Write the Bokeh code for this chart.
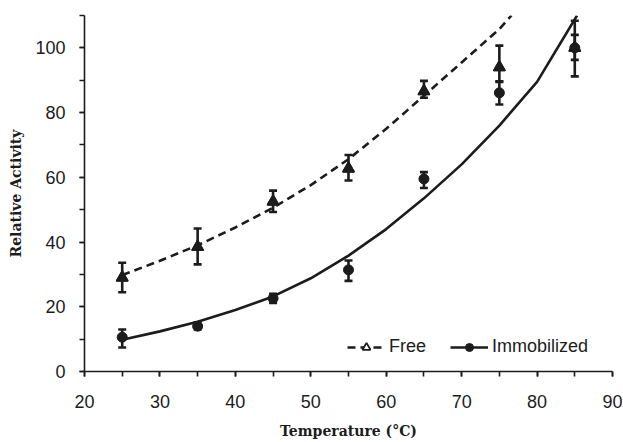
from bokeh.plotting import figure
from bokeh.models import (ColumnDataSource, Whisker, TeeHead, Range1d, Legend,
                          LegendItem, SingleIntervalTicker)
from bokeh.embed import file_html
from bokeh.resources import INLINE

# ---- data ----
temps = [25, 35, 45, 55, 65, 75, 85]

free_mean = [29.0, 38.5, 52.5, 62.7, 86.6, 94.0, 100.0]
free_low = [24.5, 33.1, 49.3, 59.0, 84.6, 89.5, 96.3]
free_high = [33.6, 44.2, 55.9, 66.9, 89.8, 100.7, 104.0]

imm_mean = [10.6, 14.0, 22.6, 31.4, 59.5, 86.1, 100.0]
imm_low = [7.4, 13.0, 21.2, 28.0, 56.7, 82.5, 91.2]
imm_high = [13.0, 15.2, 24.0, 34.3, 61.6, 89.7, 108.4]

free_fit_x = [25, 30, 35, 40, 45, 50, 55, 60, 65, 70, 75, 76.6]
free_fit_y = [29.8, 34.2, 39.0, 44.5, 50.6, 57.6, 65.6, 75.0, 85.2, 95.5, 105.8, 110.0]

imm_fit_x = [25, 30, 35, 40, 45, 50, 55, 60, 65, 70, 75, 80, 85.3]
imm_fit_y = [9.8, 12.4, 15.4, 19.0, 23.2, 28.8, 35.8, 44.0, 53.5, 64.0, 76.0, 89.5, 110.0]

series_names = ["Free", "Immobilized"]
x_title = "Temperature (°C)"
y_title = "Relative Activity"

INK = "#1c1c1c"

p = figure(width=622, height=441, output_backend="svg", toolbar_location=None,
           x_range=Range1d(20, 90), y_range=Range1d(0, 110),
           min_border_left=84, min_border_right=10, min_border_top=15,
           min_border_bottom=67)
p.outline_line_color = None
p.xgrid.visible = False
p.ygrid.visible = False
p.background_fill_color = "white"
p.border_fill_color = "white"

p.xaxis.ticker = SingleIntervalTicker(interval=10, num_minor_ticks=2)
p.yaxis.ticker = SingleIntervalTicker(interval=20, num_minor_ticks=2)
for ax in (p.xaxis[0], p.yaxis[0]):
    ax.axis_line_color = INK
    ax.axis_line_width = 1.6
    ax.major_tick_line_color = INK
    ax.minor_tick_line_color = INK
    ax.major_tick_line_width = 1.6
    ax.minor_tick_line_width = 1.6
    ax.major_tick_in = 0
    ax.minor_tick_in = 0
    ax.major_tick_out = 5
    ax.minor_tick_out = 5
    ax.major_label_text_font = "Liberation Sans"
    ax.major_label_text_font_size = "18px"
    ax.major_label_text_color = INK
    ax.axis_label_text_font = "DejaVu Serif"
    ax.axis_label_text_font_style = "bold"
    ax.axis_label_text_font_size = "14px"
    ax.axis_label_text_color = INK
p.xaxis.axis_label = x_title
p.yaxis.axis_label = y_title
p.xaxis.major_label_standoff = 18
p.yaxis.major_label_standoff = 14
p.xaxis.axis_label_standoff = 12
p.yaxis.axis_label_standoff = 8

# fitted curves
free_line = p.line(free_fit_x, free_fit_y, line_color=INK, line_width=2.6, line_dash="8 5")
imm_line = p.line(imm_fit_x, imm_fit_y, line_color=INK, line_width=2.6)

free_src = ColumnDataSource(dict(x=temps, y=free_mean, lo=free_low, hi=free_high))
imm_src = ColumnDataSource(dict(x=temps, y=imm_mean, lo=imm_low, hi=imm_high))

# open-triangle renderer used for the legend (hidden under the filled markers)
free_leg = p.scatter("x", "y", source=free_src, marker="triangle", size=11,
                     fill_color="white", line_color=INK, line_width=1.8)
free_pts = p.scatter("x", "y", source=free_src, marker="triangle", size=12,
                     fill_color=INK, line_color=INK)
imm_pts = p.scatter("x", "y", source=imm_src, marker="circle", size=10,
                    fill_color=INK, line_color=INK)

for src in (free_src, imm_src):
    w = Whisker(source=src, base="x", lower="lo", upper="hi",
                line_color=INK, line_width=2.6,
                lower_head=TeeHead(size=8, line_width=2.6, line_color=INK),
                upper_head=TeeHead(size=8, line_width=2.6, line_color=INK))
    p.add_layout(w)

legend = Legend(items=[LegendItem(label=series_names[0], renderers=[free_line, free_leg]),
                       LegendItem(label=series_names[1], renderers=[imm_line, imm_pts])],
                orientation="horizontal", location=(263, 14),
                border_line_color=None, background_fill_alpha=0,
                padding=0, margin=0, spacing=24, glyph_width=38, glyph_height=20,
                label_standoff=4, label_text_font="Liberation Sans",
                label_text_font_size="18px", label_text_color=INK)
p.add_layout(legend)

open("out.html", "w").write(file_html(p, INLINE))
